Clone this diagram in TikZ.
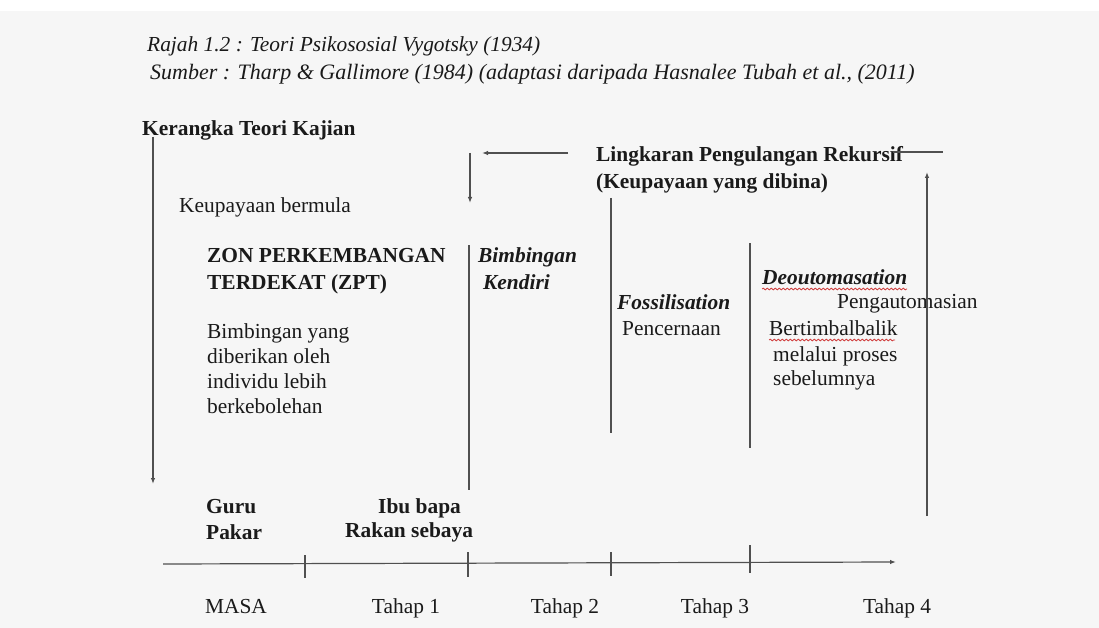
\documentclass[tikz,border=0pt]{standalone}
\usepackage{fontspec}
\setmainfont{Liberation Serif}
\usetikzlibrary{arrows.meta,decorations.pathmorphing}
\definecolor{ink}{HTML}{1A1A1A}
\definecolor{linec}{HTML}{505050}
\definecolor{paper}{HTML}{F6F6F6}
\definecolor{wavy}{HTML}{D04040}
\tikzset{
  txt/.style={anchor=base west,inner sep=0pt,text=ink,font=\fontsize{21.4}{25}\selectfont},
  btxt/.style={txt,font=\fontsize{21.4}{25}\selectfont\bfseries},
  bitxt/.style={txt,font=\fontsize{21.4}{25}\selectfont\bfseries\itshape},
  itxt/.style={txt,font=\fontsize{21.4}{25}\selectfont\itshape},
  ctxt/.style={txt,anchor=base},
  ln/.style={draw=linec,line width=1.2pt},
  arr/.style={ln,-{Latex[length=6pt,width=4.5pt]}},
  squig/.style={draw=wavy,line width=0.8pt,decorate,decoration={snake,amplitude=0.9pt,segment length=4pt}}
}
\begin{document}
\begin{tikzpicture}[x=1pt,y=-1pt]
\useasboundingbox (0,0) rectangle (1099,628);
\fill[white] (0,0) rectangle (1099,628);
\fill[paper] (0,11) rectangle (1099,628);
% caption
\node[itxt] (cap1) at (147,52) {Rajah 1.2 : Teori Psikososial Vygotsky (1934)};
\node[itxt,font=\fontsize{22}{25}\selectfont\itshape] (cap2) at (150,80) {Sumber : Tharp \& Gallimore (1984) (adaptasi daripada Hasnalee Tubah et al., (2011)};
% texts
\node[btxt] (kerangka) at (142,136) {Kerangka Teori Kajian};
\node[txt] (bermula) at (179,213) {Keupayaan bermula};
\node[btxt] (zon1) at (207,262) {ZON PERKEMBANGAN};
\node[btxt] (zon2) at (207,289) {TERDEKAT (ZPT)};
\node[txt] (b1) at (207,338) {Bimbingan yang};
\node[txt] (b2) at (207,363) {diberikan oleh};
\node[txt] (b3) at (207,388) {individu lebih};
\node[txt] (b4) at (207,413) {berkebolehan};
\node[bitxt] (bk1) at (478,262) {Bimbingan};
\node[bitxt] (bk2) at (483,289) {Kendiri};
\node[btxt] (ling) at (596,162) {Lingkaran Pengulangan Rekursif};
\node[btxt] (dibina) at (596,189) {(Keupayaan yang dibina)};
\node[bitxt] (fossil) at (617,309) {Fossilisation};
\node[txt] (pencer) at (622,335) {Pencernaan};
\node[bitxt] (deouto) at (762,284) {Deoutomasation};
\node[txt] (pengauto) at (837,308) {Pengautomasian};
\node[txt] (bertimbal) at (769,335) {Bertimbalbalik};
\node[txt] (melalui) at (773,361) {melalui proses};
\node[txt] (sebelum) at (773,385) {sebelumnya};
\node[btxt] (guru) at (206,513) {Guru};
\node[btxt] (pakar) at (206,539) {Pakar};
\node[btxt] (ibu) at (378,513) {Ibu bapa};
\node[btxt] (rakan) at (345,537) {Rakan sebaya};
\node[ctxt] (masa) at (236,613) {MASA};
\node[ctxt] (t1) at (406,613) {Tahap 1};
\node[ctxt] (t2) at (565,613) {Tahap 2};
\node[ctxt] (t3) at (715,613) {Tahap 3};
\node[ctxt] (t4) at (897,613) {Tahap 4};
% wavy underlines
\draw[squig] (deouto.base west)++(0,5) -- ++(145,0);
\draw[squig] (bertimbal.base west)++(0,5) -- ++(126,0);
% coordinates
\coordinate (lA) at (153,137);
\coordinate (lB) at (153,484);
\coordinate (dA) at (470,153);
\coordinate (dB) at (470,203);
\coordinate (hA) at (568,153);
\coordinate (hB) at (482,153);
\coordinate (rA) at (893,152);
\coordinate (rB) at (943,152);
\coordinate (uA) at (927,516);
\coordinate (uB) at (927,172);
\coordinate (v1a) at (469,245);
\coordinate (v1b) at (469,490);
\coordinate (v2a) at (611,198);
\coordinate (v2b) at (611,433);
\coordinate (v3a) at (750,243);
\coordinate (v3b) at (750,448);
\coordinate (axA) at (163,564);
\coordinate (axB) at (896,562);
% connectors
\draw[arr] (lA) -- (lB);
\draw[arr] (dA) -- (dB);
\draw[arr] (hA) -- (hB);
\draw[ln] (rA) -- (rB);
\draw[arr] (uA) -- (uB);
\draw[ln] (v1a) -- (v1b);
\draw[ln] (v2a) -- (v2b);
\draw[ln] (v3a) -- (v3b);
\draw[arr] (axA) -- (axB);
% ticks
\draw[ln] (305,555) -- (305,578);
\draw[ln] (468,552) -- (468,577);
\draw[ln] (611,552) -- (611,576);
\draw[ln] (750,545) -- (750,573);
\end{tikzpicture}
\end{document}
